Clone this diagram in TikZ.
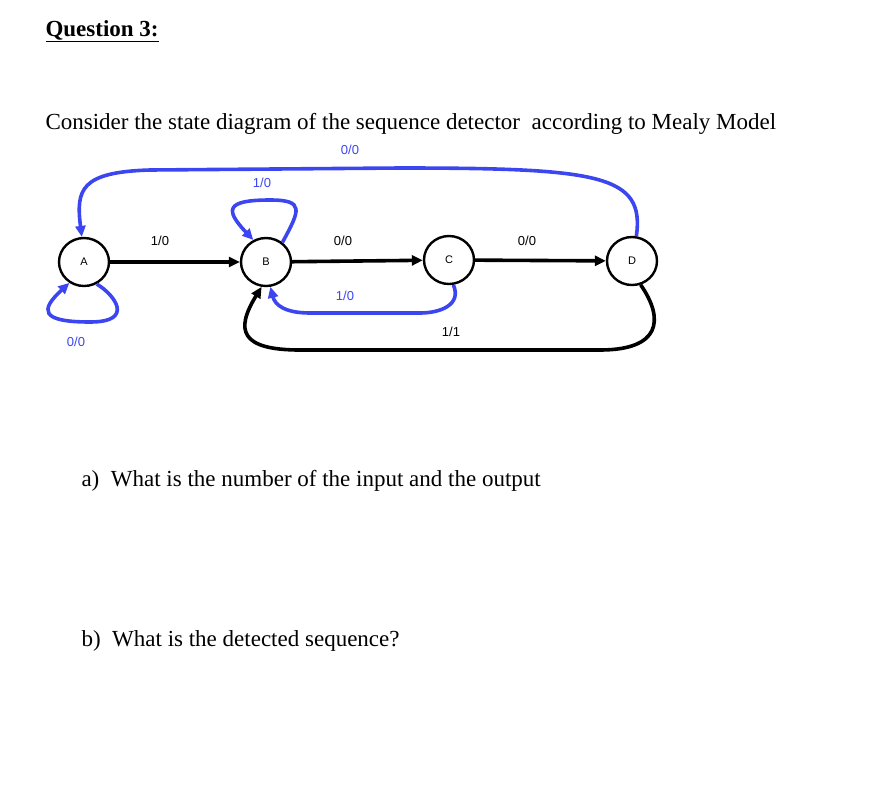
\documentclass[tikz,border=0pt]{standalone}
\usepackage{fontspec}
\setmainfont{Liberation Serif}
\newfontfamily\lsans{Liberation Sans}
\usetikzlibrary{arrows.meta,shapes.geometric}
\definecolor{eblue}{RGB}{60,70,240}
\begin{document}
\begin{tikzpicture}[x=1pt,y=-1pt,
 st/.style={draw,line width=2.4pt,ellipse,minimum width=50pt,minimum height=48pt,inner sep=0pt,font=\lsans\fontsize{11}{12}\selectfont},
 bk/.style={line width=3.6pt,-{Triangle[length=11pt,width=10pt]}},
 bl/.style={bk,draw=eblue},
 lb/.style={font=\lsans\fontsize{13}{14}\selectfont},
 tx/.style={anchor=west,font=\fontsize{23}{26}\selectfont}]
\useasboundingbox (0,0) rectangle (892,804);
\node[st] (A) at (84,262) {A};
\node[st] (B) at (266,262) {B};
\node[st] (C) at (449,260) {C};
\node[st] (D) at (632,261) {D};
\draw[bk] (A) -- (B);
\draw[bk] (B) -- (C);
\draw[bk] (C) -- (D);
\draw[bl] (D.80) .. controls (645,175) and (600,168) .. (400,168) -- (150,170) .. controls (80,172) and (76,190) .. (A.95);
\draw[bl] (B.50) .. controls (300,210) and (305,200) .. (270,200) .. controls (225,200) and (225,210) .. (B.120);
\draw[bl] (A.-60) .. controls (115,295) and (135,322) .. (90,322) .. controls (40,322) and (40,310) .. (A.-125);
\draw[bl] (C.-80) .. controls (462,305) and (440,313) .. (420,313) -- (310,313) .. controls (285,313) and (275,305) .. (B.-80);
\draw[bk] (D.-70) .. controls (665,320) and (660,350) .. (600,350) -- (300,350) .. controls (240,350) and (235,330) .. (B.-100);
\node[lb] (l1) at (160,241) {1/0};
\node[lb] (l2) at (343,241) {0/0};
\node[lb] (l3) at (527,241) {0/0};
\node[lb,text=eblue] (l4) at (350,150) {0/0};
\node[lb,text=eblue] (l5) at (262,183) {1/0};
\node[lb,text=eblue] (l6) at (76,342) {0/0};
\node[lb,text=eblue] (l7) at (345,296) {1/0};
\node[lb] (l8) at (451,332) {1/1};
\node[tx,font=\bfseries\fontsize{23}{26}\selectfont] (q) at (42,31) {\underline{Question 3:}};
\node[tx] (c) at (42,124) {Consider the state diagram of the sequence detector\ \ according to Mealy Model};
\node[tx] (a) at (78,481) {a)\ \ What is the number of the input and the output};
\node[tx] (b) at (78,641) {b)\ \ What is the detected sequence?};
\end{tikzpicture}
\end{document}
